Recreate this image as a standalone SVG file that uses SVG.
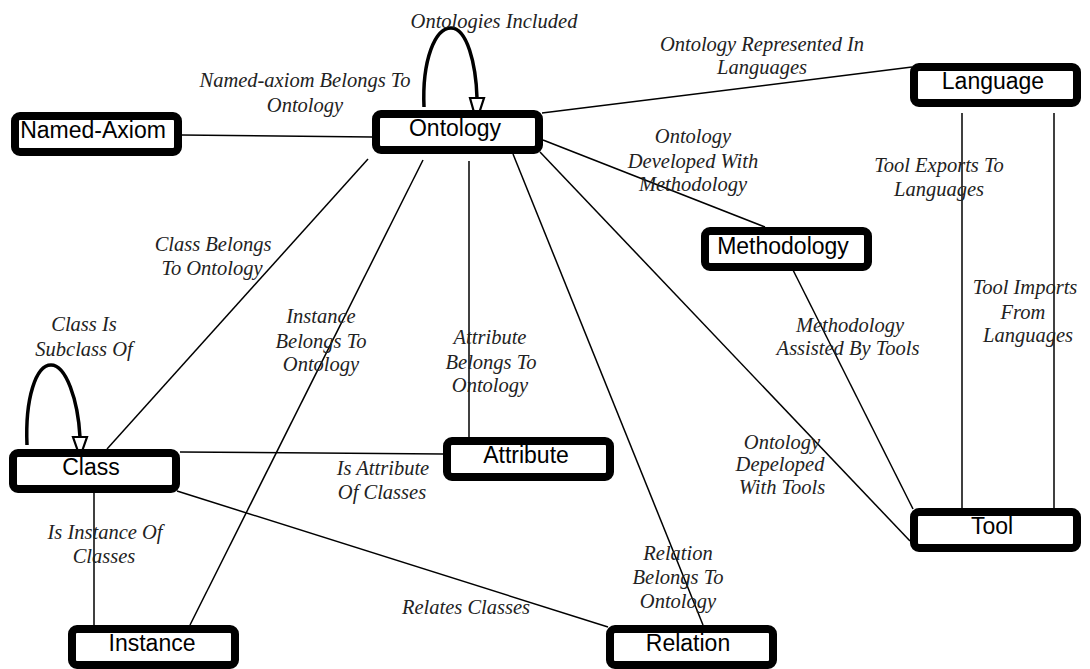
<svg xmlns="http://www.w3.org/2000/svg" width="1090" height="669" viewBox="0 0 1090 669">
<style>
.node rect{fill:#fff;stroke:#000;stroke-width:8}
.node text{font-family:"Liberation Sans",Arial,sans-serif;font-size:23px;fill:#000;text-anchor:middle}
.edge{stroke:#000;stroke-width:1.5;fill:none}
.loop{stroke:#000;stroke-width:3.5;fill:none}
.lbl{font-family:"Liberation Serif","Times New Roman",serif;font-style:italic;font-size:20.5px;fill:#222;text-anchor:middle}
</style>
<defs>
<marker id="open" markerUnits="userSpaceOnUse" markerWidth="18" markerHeight="26" refX="16" refY="8" orient="auto" viewBox="0 0 18 16">
<path d="M1,1 L16,8 L1,15 Z" fill="#fff" stroke="#000" stroke-width="2"/>
</marker>
</defs>
<rect width="1090" height="669" fill="#fff"/>
<g id="connectors">
<line class="edge" x1="181" y1="135" x2="372" y2="137"/>
<line class="edge" x1="542" y1="113" x2="912" y2="67"/>
<line class="edge" x1="543" y1="140" x2="765" y2="227"/>
<line class="edge" x1="540" y1="152" x2="910" y2="541"/>
<line class="edge" x1="793" y1="270" x2="913" y2="509"/>
<line class="edge" x1="513" y1="154" x2="703" y2="625"/>
<line class="edge" x1="469" y1="161" x2="469" y2="437"/>
<line class="edge" x1="423" y1="160" x2="190" y2="625"/>
<line class="edge" x1="368" y1="159" x2="107" y2="449"/>
<line class="edge" x1="180" y1="452" x2="443" y2="454"/>
<line class="edge" x1="177" y1="491" x2="608" y2="627"/>
<line class="edge" x1="94" y1="493" x2="94" y2="625"/>
<line class="edge" x1="962" y1="113" x2="962" y2="508"/>
<line class="edge" x1="1054" y1="113" x2="1054" y2="508"/>
<path class="loop" d="M424,107 C422,60 435,28 451,28 C467,28 476,64 477,98"/>
<path d="M470,98 L484,98 L476.5,121 Z" fill="#fff" stroke="#000" stroke-width="2.2" stroke-linejoin="miter"/>
<path class="loop" d="M27,445 C25,398 36,365 51,365 C66,365 78,400 80,437"/>
<path d="M73,437 L87,437 L80,457 Z" fill="#fff" stroke="#000" stroke-width="2.2"/>
</g>
<g id="labels">
<text class="lbl" x="494" y="28">Ontologies Included</text>
<text class="lbl" x="305" y="87">Named-axiom Belongs To<tspan x="305" y="112">Ontology</tspan></text>
<text class="lbl" x="762" y="51">Ontology Represented In<tspan x="762" y="74">Languages</tspan></text>
<text class="lbl" x="693" y="143">Ontology<tspan x="693" y="168">Developed With</tspan><tspan x="693" y="191">Methodology</tspan></text>
<text class="lbl" x="939" y="172">Tool Exports To<tspan x="939" y="196">Languages</tspan></text>
<text class="lbl" x="213" y="251">Class Belongs<tspan x="212" y="275">To Ontology</tspan></text>
<text class="lbl" x="321" y="323">Instance<tspan x="321" y="348">Belongs To</tspan><tspan x="321" y="371">Ontology</tspan></text>
<text class="lbl" x="490" y="344">Attribute<tspan x="491" y="369">Belongs To</tspan><tspan x="490" y="392">Ontology</tspan></text>
<text class="lbl" x="84" y="331">Class Is<tspan x="84" y="356">Subclass Of</tspan></text>
<text class="lbl" x="383" y="475">Is Attribute<tspan x="382" y="499">Of Classes</tspan></text>
<text class="lbl" x="105" y="539">Is Instance Of<tspan x="104" y="563">Classes</tspan></text>
<text class="lbl" x="466" y="614">Relates Classes</text>
<text class="lbl" x="678" y="560">Relation<tspan x="678" y="584">Belongs To</tspan><tspan x="678" y="608">Ontology</tspan></text>
<text class="lbl" x="850" y="332">Methodology<tspan x="848" y="355">Assisted By Tools</tspan></text>
<text class="lbl" x="1025" y="294">Tool Imports<tspan x="1023" y="319">From</tspan><tspan x="1028" y="342">Languages</tspan></text>
<text class="lbl" x="782" y="449">Ontology<tspan x="780" y="471">Depeloped</tspan><tspan x="782" y="494">With Tools</tspan></text>
</g>
<g id="node-named-axiom" class="node"><rect x="15" y="116" width="163" height="36" rx="5"/><text x="93" y="138">Named-Axiom</text></g>
<g id="node-ontology" class="node"><rect x="376" y="114" width="163" height="36" rx="5"/><text x="455" y="136">Ontology</text></g>
<g id="node-language" class="node"><rect x="914" y="67" width="163" height="36" rx="5"/><text x="993" y="89">Language</text></g>
<g id="node-methodology" class="node"><rect x="705" y="231" width="163" height="36" rx="5"/><text x="783" y="254">Methodology</text></g>
<g id="node-class" class="node"><rect x="13" y="453" width="163" height="36" rx="5"/><text x="91" y="475">Class</text></g>
<g id="node-attribute" class="node"><rect x="447" y="441" width="163" height="36" rx="5"/><text x="526" y="463">Attribute</text></g>
<g id="node-tool" class="node"><rect x="914" y="512" width="163" height="36" rx="5"/><text x="992" y="534">Tool</text></g>
<g id="node-instance" class="node"><rect x="72" y="629" width="163" height="36" rx="5"/><text x="152" y="651">Instance</text></g>
<g id="node-relation" class="node"><rect x="610" y="629" width="163" height="36" rx="5"/><text x="688" y="651">Relation</text></g>
</svg>
